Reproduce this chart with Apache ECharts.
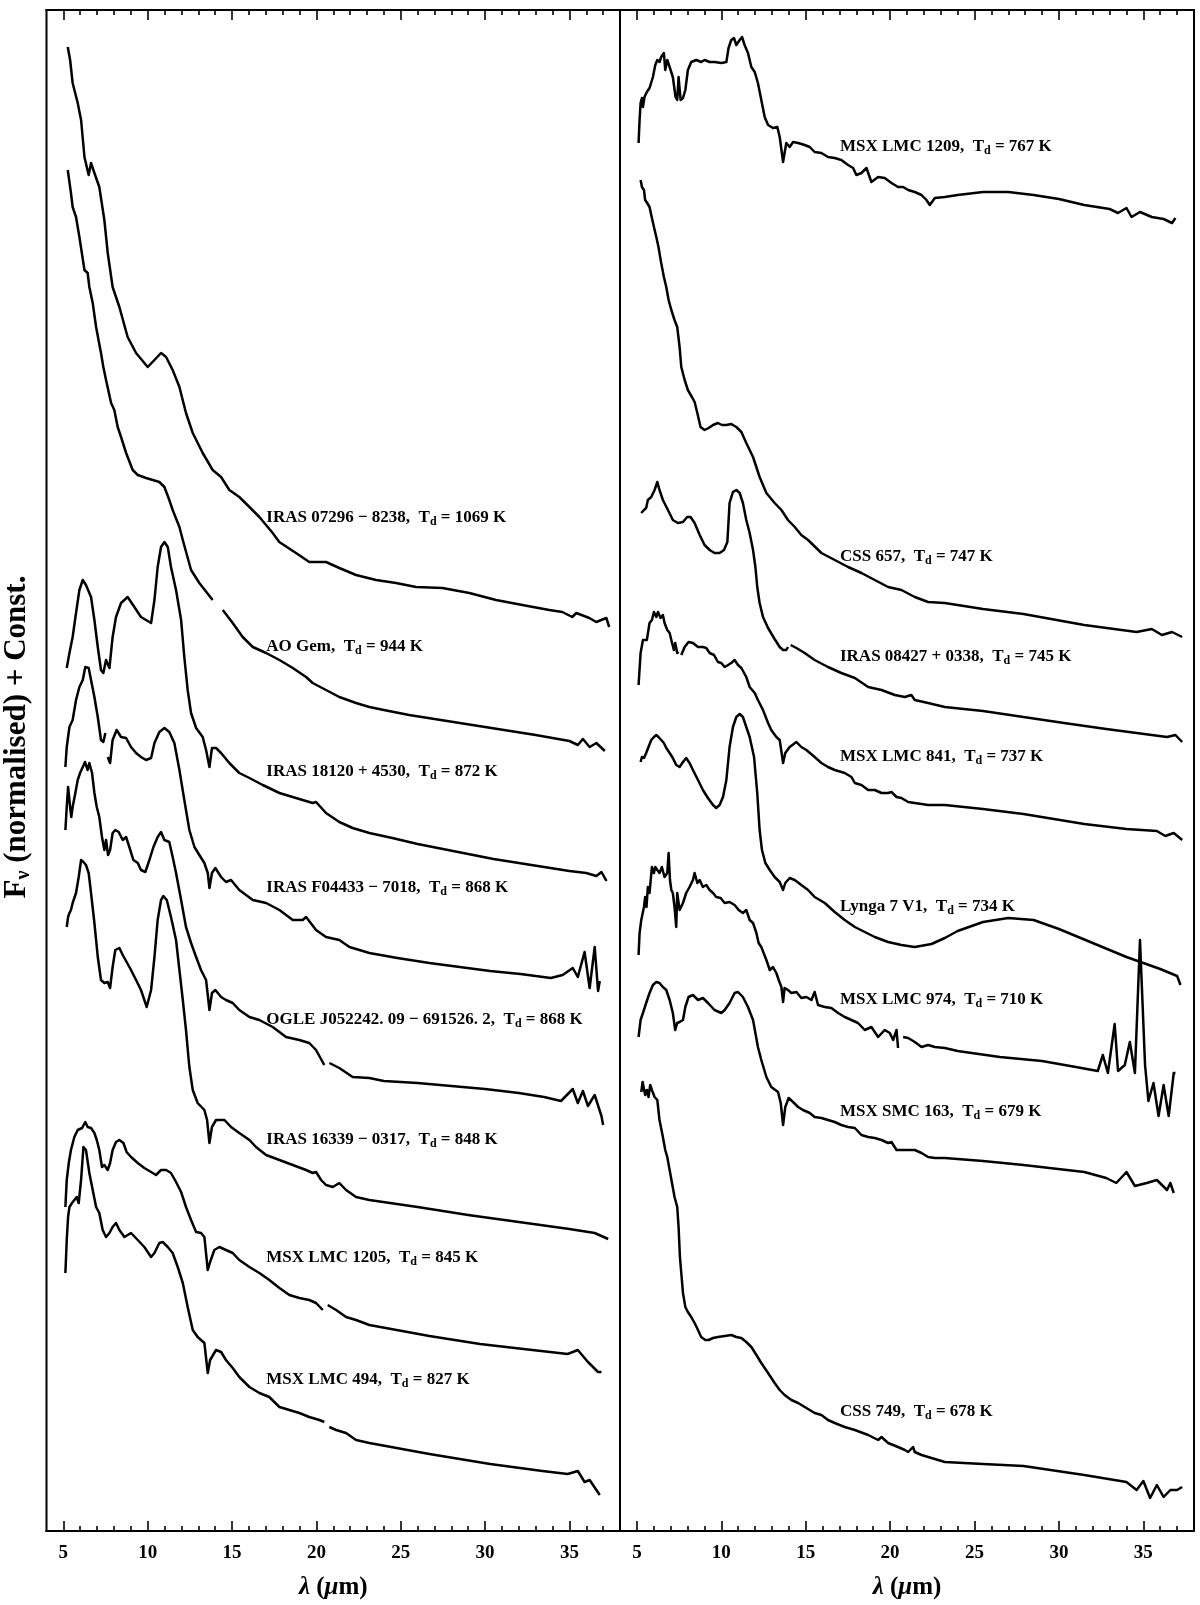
<!DOCTYPE html>
<html>
<head>
<meta charset="utf-8">
<title>Spectra</title>
<script src="https://cdn.jsdelivr.net/npm/echarts@6/dist/echarts.min.js"></script>
<style>
  html, body { margin: 0; padding: 0; background: #fff; }
  #main { width: 1200px; height: 1605px; }
</style>
</head>
<body>
<div id="main"></div>
<script>
// spectra: [wavelength (um), F_nu normalised + const]   (null = gap in the data)
const iras07296 = [[5.26,148.4],[5.40,147.1],[5.55,144.8],[5.85,142.8],[6.05,141.1],[6.25,137.4],[6.50,135.6],[6.64,136.8],[6.84,135.8],[7.13,134.4],[7.43,131.1],[7.63,127.8],[7.92,124.4],[8.32,122.4],[8.81,119.4],[9.31,117.8],[10.0,116.4],[10.40,117.1],[10.79,117.8],[11.09,117.4],[11.48,116.1],[11.88,114.4],[12.27,111.8],[12.67,109.8],[13.26,107.8],[13.85,106.1],[14.35,105.4],[14.84,104.1],[15.43,103.4],[16.03,102.4],[16.62,101.4],[17.41,99.8],[17.80,98.9],[18.79,97.8],[19.58,96.9],[20.57,96.9],[21.36,96.3],[22.35,95.6],[23.54,95.1],[24.72,94.8],[25.91,94.4],[27.47,94.3],[29.07,93.8],[30.65,93.1],[32.21,92.6],[33.81,92.1],[34.58,91.9],[35.17,91.4],[35.41,91.8],[36.18,91.3],[36.59,90.9],[37.19,91.3],[37.36,90.4]];
const aoGem = [[5.26,136.1],[5.45,133.8],[5.55,132.4],[5.75,131.4],[5.95,129.4],[6.25,126.1],[6.44,125.8],[6.54,124.4],[6.74,122.8],[6.94,120.4],[7.23,117.8],[7.37,116.4],[7.53,115.1],[7.83,112.8],[8.02,112.1],[8.22,110.4],[8.42,109.4],[8.72,107.8],[9.11,106.1],[9.41,105.6],[9.90,105.3],[10.30,105.1],[10.69,104.9],[10.99,104.4],[11.28,103.1],[11.48,102.1],[11.88,100.4],[12.08,99.1],[12.57,96.1],[13.06,94.8],[13.85,93.1],[14.20,null],[14.45,92.1],[15.04,90.8],[15.63,89.4],[16.23,88.4],[17.02,87.8],[17.81,87.1],[18.60,86.3],[19.39,85.4],[19.78,84.8],[20.57,84.1],[21.36,83.4],[22.35,82.8],[23.14,82.4],[24.0,82.1],[25.5,81.6],[27.0,81.2],[28.5,80.8],[30.0,80.4],[31.5,80.0],[33.0,79.6],[34.0,79.3],[35.0,79.0],[35.5,78.6],[35.8,79.2],[36.2,78.4],[36.6,78.8],[37.1,78.0]];
const iras18120 = [[5.20,86.3],[5.36,87.8],[5.55,89.4],[5.75,91.8],[5.95,94.1],[6.15,95.1],[6.34,94.6],[6.64,93.4],[6.84,91.1],[7.04,88.4],[7.23,86.1],[7.37,85.8],[7.53,87.1],[7.73,86.3],[7.92,89.4],[8.12,91.4],[8.42,92.8],[8.81,93.4],[9.21,92.4],[9.60,91.4],[10.20,90.8],[10.40,93.1],[10.59,96.4],[10.79,98.4],[10.99,98.9],[11.19,98.4],[11.38,96.4],[11.68,94.1],[11.98,91.1],[12.17,87.4],[12.37,84.1],[12.57,81.8],[12.87,80.3],[13.26,79.4],[13.46,78.1],[13.66,76.4],[13.81,78.3],[14.05,78.3],[14.35,77.8],[14.84,76.8],[15.43,75.8],[16.03,75.3],[16.82,74.6],[17.81,73.8],[18.79,73.3],[19.78,72.8],[19.98,72.9],[20.57,71.8],[21.36,70.9],[22.15,70.3],[23.14,69.8],[24.5,69.3],[26.0,68.7],[27.5,68.2],[29.0,67.7],[30.5,67.2],[32.0,66.8],[33.5,66.4],[35.0,66.0],[36.0,65.8],[36.6,65.5],[36.9,65.9],[37.2,65.0]];
const irasF04433 = [[5.12,76.4],[5.20,78.4],[5.36,80.4],[5.55,81.1],[5.75,83.1],[5.95,84.4],[6.15,85.1],[6.30,86.4],[6.50,86.3],[6.64,85.1],[6.84,83.4],[7.04,81.4],[7.23,79.1],[7.37,78.9],[7.49,79.8],[7.56,null],[7.63,77.4],[7.77,76.8],[7.92,79.1],[8.16,80.1],[8.42,79.4],[8.72,79.3],[9.01,78.4],[9.31,77.8],[9.60,77.4],[9.90,77.1],[10.20,77.3],[10.40,78.8],[10.69,79.9],[10.99,80.3],[11.28,79.9],[11.58,78.8],[11.88,76.1],[12.17,73.1],[12.47,70.1],[12.77,68.4],[13.06,67.6],[13.36,66.8],[13.56,65.8],[13.66,64.3],[13.81,65.8],[14.01,66.3],[14.35,65.4],[14.64,64.9],[14.94,65.1],[15.43,64.1],[16.23,63.1],[17.02,62.8],[17.81,62.1],[18.60,61.1],[19.19,61.1],[19.39,61.4],[19.98,60.1],[20.57,59.4],[21.36,59.1],[21.96,58.4],[22.55,58.1],[23.14,57.8],[24.8,57.3],[26.7,56.8],[28.5,56.4],[30.3,56.0],[32.1,55.7],[33.9,55.3],[34.6,55.6],[35.2,56.3],[35.5,55.4],[35.9,57.9],[36.2,54.3],[36.5,58.4],[36.7,54.0],[36.8,55.0]];
const ogleJ052242 = [[5.12,70.1],[5.20,72.4],[5.28,74.4],[5.40,72.4],[5.47,71.4],[5.55,72.4],[5.71,73.8],[5.85,75.1],[5.99,75.8],[6.15,76.4],[6.28,76.9],[6.44,76.1],[6.54,76.8],[6.70,75.8],[6.84,73.8],[6.98,72.4],[7.13,71.4],[7.29,69.4],[7.43,68.1],[7.53,69.1],[7.65,67.6],[7.77,68.1],[7.92,69.8],[8.08,70.1],[8.28,69.9],[8.52,69.1],[8.72,69.4],[8.91,68.4],[9.15,67.1],[9.41,66.8],[9.60,66.1],[9.86,65.9],[10.10,67.1],[10.34,68.4],[10.59,69.4],[10.79,69.9],[10.99,69.1],[11.28,68.9],[11.48,67.4],[11.68,65.8],[11.98,63.1],[12.27,60.4],[12.57,58.8],[12.87,57.4],[13.16,56.1],[13.46,55.1],[13.66,52.1],[13.81,53.8],[14.01,54.1],[14.35,53.4],[14.64,53.1],[15.04,52.8],[15.43,52.1],[16.03,51.4],[16.62,51.1],[17.41,50.4],[18.20,49.4],[18.99,49.1],[19.58,48.8],[19.98,48.1],[20.47,46.6],[20.62,null],[20.77,46.8],[21.36,46.3],[22.15,45.4],[23.14,45.3],[24.0,45.0],[26.0,44.8],[28.0,44.5],[30.0,44.2],[32.0,43.8],[33.5,43.4],[34.5,43.0],[35.2,44.2],[35.5,42.8],[35.8,44.0],[36.1,42.5],[36.5,43.6],[36.9,41.5],[37.0,40.6]];
const iras16339 = [[5.20,60.4],[5.28,61.4],[5.36,61.8],[5.45,62.1],[5.55,62.8],[5.75,63.8],[5.91,65.4],[6.05,67.1],[6.19,66.9],[6.34,66.6],[6.50,65.8],[6.64,63.8],[6.84,60.8],[7.04,57.4],[7.23,55.1],[7.43,54.8],[7.63,54.9],[7.77,54.3],[7.92,56.4],[8.08,58.1],[8.32,58.3],[8.52,57.6],[8.75,56.9],[9.01,56.1],[9.31,55.1],[9.60,54.1],[9.94,52.4],[10.20,54.1],[10.40,57.4],[10.59,61.1],[10.79,63.1],[10.93,63.5],[11.13,63.1],[11.38,61.4],[11.68,59.1],[11.88,56.1],[12.08,53.1],[12.27,50.1],[12.43,47.1],[12.47,46.4],[12.67,44.1],[12.96,42.8],[13.36,42.1],[13.52,41.1],[13.66,38.8],[13.81,40.4],[14.05,41.1],[14.55,41.1],[14.94,40.4],[15.43,39.8],[16.03,39.1],[16.42,38.4],[17.02,37.6],[17.81,37.1],[18.60,36.6],[19.39,36.1],[19.78,35.8],[19.98,35.9],[20.28,35.1],[20.57,34.6],[20.97,34.4],[21.36,34.8],[21.76,34.1],[22.35,33.4],[23.14,33.1],[26.0,32.4],[29.0,31.6],[32.0,30.9],[35.0,30.2],[36.5,29.8],[37.3,29.2]];
const msxLmc1205 = [[5.12,32.4],[5.20,35.1],[5.32,36.8],[5.45,38.1],[5.65,39.4],[5.85,40.1],[6.11,40.3],[6.30,40.9],[6.44,40.4],[6.64,40.3],[6.84,39.8],[6.98,39.1],[7.13,38.1],[7.29,36.4],[7.43,36.6],[7.63,36.1],[7.77,36.8],[7.92,38.1],[8.12,38.9],[8.32,39.1],[8.56,38.8],[8.75,37.9],[9.01,37.4],[9.41,36.8],[9.80,36.3],[10.20,35.9],[10.49,35.6],[10.79,36.1],[11.09,36.1],[11.38,35.8],[11.68,34.9],[11.98,33.9],[12.27,32.4],[12.57,31.1],[12.87,29.9],[13.16,29.8],[13.36,29.4],[13.56,26.1],[13.70,26.9],[13.95,28.1],[14.25,28.4],[14.64,28.1],[15.04,27.8],[15.43,27.1],[16.03,26.4],[16.62,25.8],[17.21,25.1],[17.81,24.3],[18.40,23.6],[18.99,23.3],[19.58,23.1],[19.98,22.8],[20.38,22.1],[20.52,null],[20.67,22.6],[21.17,22.1],[21.76,21.4],[22.35,21.1],[23.14,20.6],[26.7,19.5],[29.7,18.7],[32.8,18.1],[34.9,17.7],[35.5,18.1],[36.1,16.9],[36.7,15.9],[36.9,15.9]];
const msxLmc494 = [[5.12,25.8],[5.20,29.1],[5.28,31.4],[5.36,32.4],[5.51,32.8],[5.65,33.1],[5.79,33.4],[5.91,32.8],[6.05,35.1],[6.19,38.4],[6.34,38.1],[6.54,35.8],[6.74,34.1],[6.94,32.4],[7.13,31.8],[7.33,30.1],[7.53,29.4],[7.73,29.8],[7.92,30.4],[8.12,30.8],[8.32,30.1],[8.62,29.4],[9.01,29.8],[9.41,29.1],[9.80,28.4],[10.20,27.4],[10.40,27.8],[10.69,28.8],[10.89,28.9],[11.19,28.4],[11.48,27.8],[11.78,26.4],[12.08,24.8],[12.37,22.4],[12.67,20.1],[12.96,19.4],[13.36,18.8],[13.56,15.8],[13.70,17.1],[14.05,18.1],[14.35,17.9],[14.64,17.1],[15.04,16.3],[15.43,15.4],[16.03,14.4],[16.62,13.8],[17.21,13.4],[17.81,12.4],[18.40,12.1],[18.99,11.8],[19.58,11.4],[20.18,11.1],[20.47,10.9],[20.62,null],[20.77,10.4],[21.17,10.1],[21.76,9.8],[22.35,9.1],[23.14,8.8],[26.7,7.7],[30.3,6.7],[33.4,6.0],[34.9,5.7],[35.5,6.0],[35.9,4.9],[36.2,5.1],[36.6,4.1],[36.8,3.6]];

const msxLmc1209 = [[5.10,138.8],[5.16,141.1],[5.22,142.8],[5.30,143.3],[5.36,142.4],[5.45,143.4],[5.59,143.9],[5.75,144.3],[5.95,145.4],[6.09,146.6],[6.21,147.1],[6.34,146.9],[6.44,147.4],[6.60,147.8],[6.68,146.1],[6.80,147.1],[6.94,146.4],[7.13,145.4],[7.29,143.4],[7.39,143.1],[7.47,145.4],[7.53,145.6],[7.59,143.1],[7.73,143.3],[7.87,144.1],[8.02,146.1],[8.22,146.9],[8.52,147.1],[8.81,146.9],[9.01,147.1],[9.31,146.9],[9.60,146.9],[10.00,146.8],[10.30,146.9],[10.43,148.3],[10.59,149.1],[10.75,149.3],[10.89,148.6],[11.09,149.1],[11.23,149.4],[11.38,148.6],[11.58,147.8],[11.78,146.4],[11.98,145.9],[12.17,144.8],[12.37,143.1],[12.57,141.4],[12.77,140.6],[13.06,140.3],[13.32,140.4],[13.46,139.4],[13.66,136.9],[13.75,137.8],[13.85,138.8],[14.05,138.4],[14.25,138.9],[14.55,138.8],[14.94,138.6],[15.24,138.4],[15.53,137.9],[15.93,137.8],[16.32,137.4],[16.72,137.3],[17.11,137.1],[17.51,136.6],[17.81,136.3],[18.00,135.6],[18.30,135.8],[18.60,136.3],[18.89,134.9],[19.29,135.4],[19.68,135.3],[20.08,134.8],[20.47,134.4],[20.77,134.4],[21.07,134.1],[21.46,133.9],[21.86,133.6],[22.15,133.1],[22.35,132.6],[22.65,133.3],[23.24,133.4],[24.0,133.6],[25.5,133.9],[27.0,133.9],[28.5,133.6],[30.0,133.2],[31.5,132.6],[33.0,132.2],[33.5,131.8],[34.0,132.3],[34.3,131.4],[34.8,131.9],[35.5,131.4],[36.2,131.2],[36.7,130.8],[36.9,131.3]];
const css657 = [[5.22,135.1],[5.30,134.4],[5.42,134.1],[5.49,133.1],[5.61,132.8],[5.75,132.4],[5.85,131.6],[6.01,130.4],[6.15,129.4],[6.28,128.4],[6.44,126.8],[6.60,125.4],[6.74,124.4],[6.88,123.1],[7.04,122.1],[7.23,121.1],[7.39,120.4],[7.53,118.4],[7.63,116.4],[7.83,115.1],[8.02,114.1],[8.26,113.4],[8.42,112.9],[8.58,111.8],[8.77,110.4],[9.01,110.1],[9.25,110.3],[9.51,110.6],[9.80,110.8],[10.04,110.6],[10.30,110.6],[10.59,110.7],[10.89,110.4],[11.19,109.9],[11.48,108.8],[11.88,107.4],[12.27,105.4],[12.67,103.8],[13.16,102.8],[13.56,102.1],[13.95,101.1],[14.35,100.4],[14.74,99.6],[15.14,99.1],[15.93,97.8],[16.72,97.1],[17.51,96.4],[18.30,95.8],[19.09,95.1],[19.88,94.4],[20.67,94.1],[21.46,93.4],[22.25,92.9],[23.24,92.8],[25.5,92.2],[27.9,91.7],[31.5,90.6],[34.6,89.9],[35.5,90.2],[36.1,89.6],[36.7,89.9],[37.3,89.4]];
const iras08427 = [[5.26,101.8],[5.42,102.1],[5.55,102.3],[5.65,103.1],[5.85,103.4],[6.05,104.1],[6.21,104.9],[6.34,104.1],[6.54,103.1],[6.84,102.1],[7.13,101.1],[7.43,100.8],[7.73,100.9],[7.98,101.4],[8.18,101.4],[8.42,100.8],[8.72,99.6],[9.01,98.6],[9.31,98.1],[9.60,97.8],[9.90,97.8],[10.16,98.1],[10.36,98.9],[10.49,102.8],[10.69,103.9],[10.89,104.1],[11.09,103.8],[11.28,102.8],[11.48,101.1],[11.68,99.8],[11.88,98.1],[12.02,96.4],[12.13,94.4],[12.27,92.8],[12.47,91.4],[12.77,90.3],[13.12,89.3],[13.46,88.4],[13.66,88.1],[13.85,88.1],[13.95,88.4],[14.03,null],[14.11,88.6],[14.45,88.3],[14.94,87.8],[15.53,87.1],[16.32,86.4],[17.11,85.8],[17.91,85.3],[18.70,84.4],[19.49,84.1],[20.28,83.6],[20.87,83.4],[21.26,83.6],[21.46,83.1],[22.25,82.8],[23.24,82.4],[25.5,82.0],[27.9,81.4],[30.3,80.8],[32.8,80.2],[34.6,79.8],[36.4,79.4],[36.9,79.6],[37.3,78.9]];
const msxLmc841 = [[5.10,84.6],[5.22,87.8],[5.36,89.1],[5.45,89.3],[5.59,89.1],[5.75,90.8],[5.89,91.1],[6.01,91.9],[6.15,91.4],[6.25,91.9],[6.40,91.3],[6.54,91.6],[6.64,90.8],[6.80,90.1],[6.94,89.8],[7.04,89.1],[7.19,88.1],[7.27,88.8],[7.39,87.8],[7.47,87.9],[7.55,null],[7.63,87.6],[7.83,88.4],[8.06,88.9],[8.32,88.8],[8.62,88.4],[8.91,88.4],[9.11,88.3],[9.31,87.8],[9.57,87.6],[9.80,86.9],[10.00,86.8],[10.20,86.4],[10.40,86.6],[10.59,86.8],[10.79,87.1],[10.99,86.6],[11.19,86.3],[11.48,85.4],[11.68,84.4],[11.98,83.8],[12.17,83.1],[12.47,82.1],[12.77,80.8],[12.96,80.1],[13.26,79.4],[13.46,79.1],[13.66,76.8],[13.79,77.8],[14.05,78.4],[14.45,78.9],[14.74,78.4],[15.04,78.1],[15.53,77.4],[15.93,76.8],[16.32,76.4],[16.72,76.1],[17.31,75.8],[17.71,75.4],[17.91,74.8],[18.30,74.6],[18.70,74.1],[19.09,74.1],[19.49,73.8],[19.88,73.8],[20.08,73.9],[20.38,73.4],[20.67,73.3],[21.07,72.9],[21.46,72.8],[22.25,72.6],[23.24,72.6],[25.5,72.2],[27.9,71.7],[31.5,70.7],[34.0,70.2],[35.8,70.0],[36.3,69.5],[36.8,69.8],[37.3,69.1]];
const lynga7V1 = [[5.22,76.9],[5.30,77.4],[5.42,77.3],[5.55,77.8],[5.69,78.4],[5.85,79.1],[6.01,79.4],[6.15,79.6],[6.28,79.4],[6.44,79.1],[6.60,78.8],[6.74,78.3],[6.94,77.8],[7.13,77.3],[7.33,76.6],[7.53,76.4],[7.73,76.9],[7.92,77.3],[8.12,76.8],[8.32,76.1],[8.62,75.1],[8.91,74.1],[9.21,73.3],[9.51,72.6],[9.70,72.3],[9.90,72.6],[10.10,73.4],[10.30,75.1],[10.49,78.4],[10.69,80.4],[10.89,81.4],[11.09,81.7],[11.28,81.4],[11.48,80.4],[11.68,79.4],[11.94,77.4],[12.13,73.8],[12.27,70.1],[12.41,68.1],[12.61,66.8],[12.87,66.1],[13.16,65.4],[13.46,64.9],[13.66,64.1],[13.79,64.8],[14.05,65.3],[14.35,65.1],[14.74,64.6],[15.14,64.1],[15.53,63.4],[16.13,62.8],[16.72,61.9],[17.31,61.1],[17.91,60.4],[18.50,59.9],[19.09,59.4],[19.88,58.9],[20.67,58.6],[21.46,58.4],[22.45,58.7],[23.24,59.3],[24.0,60.0],[25.5,60.9],[27.0,61.3],[28.5,61.1],[30.0,60.2],[32.0,58.8],[34.0,57.4],[36.0,56.2],[37.0,55.5],[37.2,54.6]];
const msxLmc974 = [[5.10,57.6],[5.16,59.8],[5.26,61.1],[5.42,62.4],[5.49,63.4],[5.57,62.4],[5.65,64.4],[5.75,63.8],[5.89,66.4],[6.01,65.8],[6.09,66.4],[6.21,66.1],[6.34,65.8],[6.48,66.4],[6.64,65.4],[6.80,65.8],[6.88,67.8],[6.96,65.1],[7.04,64.1],[7.13,63.8],[7.23,62.4],[7.33,60.4],[7.39,63.8],[7.53,62.1],[7.73,62.8],[7.92,63.8],[8.12,64.4],[8.32,65.1],[8.42,65.8],[8.58,64.8],[8.72,65.1],[8.91,64.4],[9.11,64.6],[9.31,64.1],[9.51,63.8],[9.70,63.4],[9.96,63.3],[10.20,62.8],[10.49,62.9],[10.79,62.6],[11.03,62.1],[11.28,61.8],[11.48,62.1],[11.68,61.1],[11.88,60.8],[12.08,59.8],[12.21,58.8],[12.37,58.4],[12.67,57.1],[12.87,56.1],[13.06,56.4],[13.26,55.8],[13.40,55.1],[13.56,54.4],[13.66,52.9],[13.75,54.3],[13.95,54.1],[14.15,53.8],[14.45,53.9],[14.74,53.3],[15.04,53.4],[15.34,53.1],[15.53,53.9],[15.73,52.6],[16.13,52.4],[16.52,52.3],[16.92,51.8],[17.31,51.4],[17.71,51.1],[18.10,50.8],[18.50,50.1],[18.89,50.4],[19.29,49.4],[19.68,50.1],[19.98,49.8],[20.18,49.1],[20.38,50.1],[20.47,48.3],[20.62,null],[20.77,49.4],[21.07,49.3],[21.46,48.9],[21.86,48.4],[22.25,48.6],[22.65,48.4],[23.24,48.3],[24.0,48.0],[26.5,47.4],[29.0,47.0],[31.0,46.4],[32.3,46.0],[32.6,47.6],[32.9,45.8],[33.3,50.7],[33.5,46.0],[33.9,46.6],[34.2,48.9],[34.5,45.8],[34.8,59.1],[35.1,46.6],[35.3,43.0],[35.6,44.8],[35.9,41.5],[36.2,44.6],[36.5,41.5],[36.8,45.8],[36.9,45.8]];
const msxSmc163 = [[5.10,49.4],[5.22,51.1],[5.36,51.8],[5.55,52.8],[5.75,53.8],[5.95,54.6],[6.15,54.9],[6.34,54.8],[6.54,54.4],[6.74,54.1],[6.94,53.1],[7.13,51.8],[7.27,50.1],[7.39,50.8],[7.53,50.9],[7.73,51.1],[7.87,52.4],[8.06,53.4],[8.32,53.6],[8.62,53.1],[8.91,53.3],[9.21,52.8],[9.60,52.1],[10.00,51.8],[10.20,52.1],[10.49,52.8],[10.79,53.8],[10.99,53.9],[11.28,53.4],[11.58,52.4],[11.88,51.1],[12.17,48.4],[12.37,47.1],[12.67,45.4],[12.96,44.4],[13.36,43.9],[13.52,42.8],[13.66,40.6],[13.79,42.4],[13.99,43.3],[14.25,42.9],[14.55,42.4],[14.84,42.1],[15.24,41.8],[15.53,41.4],[15.93,41.3],[16.32,41.1],[16.72,40.9],[17.11,40.6],[17.51,40.4],[17.91,40.3],[18.30,39.6],[18.70,39.4],[19.09,39.3],[19.49,39.1],[19.88,38.8],[20.08,38.9],[20.38,38.1],[20.67,38.1],[21.07,38.1],[21.46,38.1],[21.86,37.8],[22.25,37.4],[22.65,37.3],[23.24,37.3],[25.5,37.0],[27.9,36.6],[31.5,35.9],[32.8,35.3],[33.4,34.8],[34.0,35.9],[34.5,34.5],[35.2,34.8],[35.8,35.1],[36.4,34.1],[36.6,34.8],[36.8,33.8]];
const css749 = [[5.26,43.9],[5.34,44.9],[5.49,43.6],[5.59,44.1],[5.69,43.4],[5.79,44.6],[5.89,44.1],[6.05,43.4],[6.21,43.1],[6.34,41.1],[6.54,39.4],[6.68,38.1],[6.80,37.4],[6.94,36.1],[7.08,34.8],[7.23,33.4],[7.39,32.4],[7.47,30.4],[7.55,27.4],[7.63,25.8],[7.73,23.8],[7.87,22.4],[8.02,21.9],[8.22,21.4],[8.42,20.8],[8.62,20.1],[8.81,19.4],[9.05,19.1],[9.25,19.1],[9.51,19.3],[9.80,19.4],[10.20,19.5],[10.59,19.6],[10.89,19.4],[11.19,19.3],[11.48,18.9],[11.78,18.4],[12.08,17.6],[12.37,16.8],[12.77,15.8],[13.16,14.8],[13.46,14.1],[13.75,13.6],[14.15,13.1],[14.55,12.8],[15.04,12.3],[15.53,11.8],[15.93,11.6],[16.32,11.1],[16.72,10.8],[17.31,10.4],[17.91,10.1],[18.70,9.6],[19.29,9.1],[19.49,9.4],[19.88,8.8],[20.47,8.4],[20.87,8.1],[21.07,7.9],[21.36,8.4],[21.46,7.9],[21.86,7.6],[22.45,7.3],[23.24,6.9],[25.5,6.7],[27.9,6.5],[31.5,5.6],[34.0,4.9],[34.6,4.1],[35.0,5.0],[35.4,3.3],[35.8,4.6],[36.2,3.4],[36.6,4.1],[37.0,4.1],[37.3,4.4]];

const leftSpectra = [iras07296, aoGem, iras18120, irasF04433, ogleJ052242, iras16339, msxLmc1205, msxLmc494];
const leftNames = ['IRAS 07296 − 8238', 'AO Gem', 'IRAS 18120 + 4530', 'IRAS F04433 − 7018',
  'OGLE J052242. 09 − 691526. 2', 'IRAS 16339 − 0317', 'MSX LMC 1205', 'MSX LMC 494'];
const leftTemps = [1069, 944, 872, 868, 868, 848, 845, 827];

const rightSpectra = [msxLmc1209, css657, iras08427, msxLmc841, lynga7V1, msxLmc974, msxSmc163, css749];
const rightNames = ['MSX LMC 1209', 'CSS 657', 'IRAS 08427 + 0338', 'MSX LMC 841',
  'Lynga 7 V1', 'MSX LMC 974', 'MSX SMC 163', 'CSS 749'];
const rightTemps = [767, 747, 745, 737, 734, 710, 679, 678];

const majorTicks = [5, 10, 15, 20, 25, 30, 35];
const minorTicks = [6, 7, 8, 9, 11, 12, 13, 14, 16, 17, 18, 19, 21, 22, 23, 24, 26, 27, 28, 29, 31, 32, 33, 34, 36, 37];

// where the labels sit (wavelength, flux)
const labelX = 17;
const leftLabelY = [101.3, 88.4, 75.9, 64.3, 51.1, 39.1, 27.3, 15.1];
const rightLabelY = [138.4, 97.4, 87.4, 77.4, 62.4, 53.1, 41.9, 11.9];

const FONT = "'Liberation Serif', 'DejaVu Serif', serif";
const X_MIN = 4, X_MAX = 38, Y_MAX = 152.1;

const chart = echarts.init(document.getElementById('main'), null, { renderer: 'canvas' });

function xAxes(grid) {
  const base = { type: 'value', gridIndex: grid, min: X_MIN, max: X_MAX,
    splitLine: { show: false }, axisLine: { show: true, lineStyle: { color: '#000', width: 2 } } };
  const tick = (len, vals) => ({ show: true, inside: true, length: len, customValues: vals,
    lineStyle: { color: '#000', width: 1.6 } });
  return [
    Object.assign({}, base, {
      position: 'bottom',
      axisTick: tick(10, majorTicks),
      axisLabel: { show: true, customValues: majorTicks, margin: 13, color: '#000',
        fontFamily: FONT, fontWeight: 'bold', fontSize: 19 },
      name: '{i|λ}{a| (}{i|μ}{a|m)}', nameLocation: 'middle', nameGap: 44,
      nameTextStyle: { rich: {
        a: { fontFamily: FONT, fontWeight: 'bold', fontSize: 25, color: '#000' },
        i: { fontFamily: FONT, fontWeight: 'bold', fontStyle: 'italic', fontSize: 25, color: '#000' } } }
    }),
    Object.assign({}, base, { position: 'bottom', axisLabel: { show: false }, axisTick: tick(5, minorTicks) }),
    Object.assign({}, base, { position: 'top', axisLabel: { show: false }, axisTick: tick(10, majorTicks) }),
    Object.assign({}, base, { position: 'top', axisLabel: { show: false }, axisTick: tick(5, minorTicks) })
  ];
}

function yAxis(grid) {
  return { type: 'value', gridIndex: grid, min: 0, max: Y_MAX,
    axisLine: { show: false }, axisTick: { show: false }, axisLabel: { show: false }, splitLine: { show: false } };
}

const labelRich = {
  a: { fontFamily: FONT, fontWeight: 'bold', fontSize: 17, color: '#000', lineHeight: 20 },
  s: { fontFamily: FONT, fontWeight: 'bold', fontSize: 12, color: '#000', lineHeight: 10, verticalAlign: 'bottom' }
};

function makeSeries(spectra, names, temps, labelY, grid) {
  return spectra.map((d, i) => ({
    type: 'line',
    xAxisIndex: grid * 4,
    yAxisIndex: grid,
    data: d,
    showSymbol: false,
    connectNulls: false,
    silent: true,
    lineStyle: { color: '#000', width: 2.5, join: 'round' },
    markPoint: {
      symbol: 'circle', symbolSize: 1, silent: true,
      itemStyle: { color: 'rgba(0,0,0,0)' },
      label: { show: true, position: 'right', distance: 0,
        formatter: '{a|' + names[i] + ',  T}{s|d}{a| = ' + temps[i] + ' K}', rich: labelRich },
      data: [{ coord: [labelX, labelY[i]] }]
    }
  }));
}

chart.setOption({
  animation: false,
  backgroundColor: '#fff',
  grid: [
    { left: 46.5, top: 10, width: 573.5, height: 1521, show: true, borderColor: '#000', borderWidth: 2 },
    { left: 620, top: 10, width: 574, height: 1521, show: true, borderColor: '#000', borderWidth: 2 }
  ],
  xAxis: xAxes(0).concat(xAxes(1)),
  yAxis: [yAxis(0), yAxis(1)],
  series: makeSeries(leftSpectra, leftNames, leftTemps, leftLabelY, 0)
    .concat(makeSeries(rightSpectra, rightNames, rightTemps, rightLabelY, 1)),
  graphic: [{
    type: 'text', x: 17, y: 737, rotation: Math.PI / 2,
    style: {
      text: '{a|F}{s|ν}{a| (normalised) + Const.}',
      align: 'center', verticalAlign: 'middle',
      rich: {
        a: { fontFamily: FONT, fontWeight: 'bold', fontSize: 31, fill: '#000', lineHeight: 34 },
        s: { fontFamily: FONT, fontWeight: 'bold', fontSize: 20, fill: '#000', lineHeight: 17, verticalAlign: 'bottom' }
      }
    }
  }]
});
</script>
</body>
</html>
